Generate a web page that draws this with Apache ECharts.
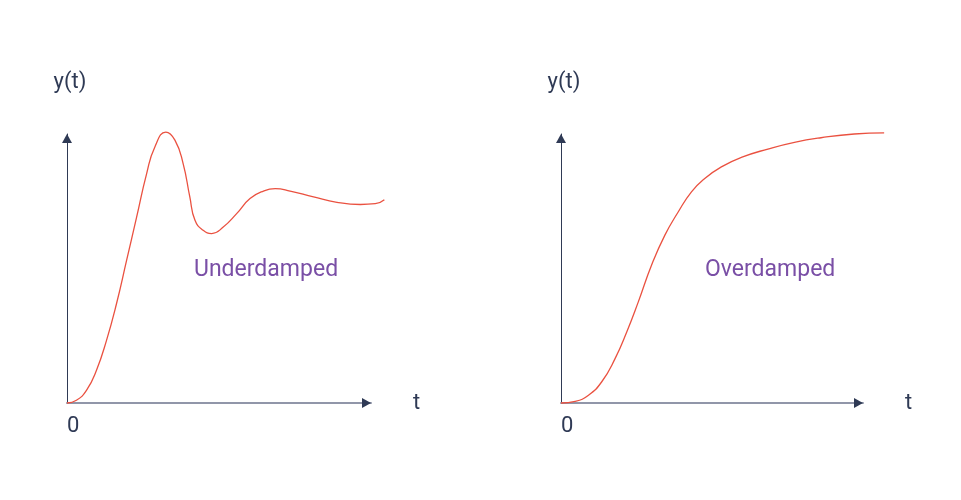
<!DOCTYPE html>
<html>
<head>
<meta charset="utf-8">
<script src="https://cdn.jsdelivr.net/npm/echarts@6/dist/echarts.min.js"></script>
<style>html,body{margin:0;padding:0;background:#fff}#c{width:961px;height:500px}</style>
</head>
<body>
<div id="c"></div>
<script>
// Underdamped response (t, y) in axis units (axis arrows end at t = 100, y = 100)
const underT = [0, 3.1, 6.4, 9.7, 13.0, 16.3, 19.6, 22.9, 26.2, 28.9, 32.5, 35.5, 38.2, 40.4, 42.1, 44.8, 47.6, 51.4, 55.8, 60.2, 64.6, 68.5, 73.4, 81.1, 88.8, 96.5, 101.4, 104.4];
const underY = [0, 1.0, 4.7, 12.2, 23.3, 37.0, 53.0, 69.1, 85.3, 95.2, 100.7, 97.7, 89.0, 76.6, 67.9, 64.2, 63.0, 65.4, 70.4, 76.0, 78.8, 79.7, 78.8, 76.6, 74.6, 73.8, 74.1, 75.6];
// Overdamped response
const overT = [0, 4.7, 9.1, 13.5, 17.9, 21.8, 25.6, 30.0, 34.4, 38.8, 43.2, 47.6, 53.1, 59.7, 68.5, 77.3, 86.1, 97.1, 107.0];
const overY = [0, 0.6, 2.9, 7.9, 16.5, 26.5, 37.6, 51.3, 62.4, 71.0, 78.5, 83.5, 87.8, 91.3, 94.4, 96.9, 98.6, 100.0, 100.4];
const panelTitles = ['Underdamped', 'Overdamped'];
const yName = 'y(t)';
const xName = 't';
const originLabel = '0';

const FONT = 'Roboto';
const DARK = '#2f3a55';
const GRAY = '#9196a9';
const RED = '#ea5140';
const PURPLE = '#7a4fa6';

const chart = echarts.init(document.getElementById('c'));
const AX_MAX = 100, SER_MAX = 110;
const decoGrids = [
  {left: 67, top: 134, width: 304, height: 269},
  {left: 561, top: 134, width: 302, height: 269}
];
// series grids: same scale, extended so the curves may run past the arrows
const serGrids = decoGrids.map(g => {
  const w = g.width * SER_MAX / AX_MAX, h = g.height * SER_MAX / AX_MAX;
  return {left: g.left, top: g.top + g.height - h, width: w, height: h};
});
const grids = decoGrids.concat(serGrids);

const ARROW = {symbol: ['none', 'triangle'], symbolSize: [10, 9], symbolOffset: [0, -4.5]};
const xAxes = [], yAxes = [];
decoGrids.forEach((g, i) => {
  xAxes.push({
    type: 'value', gridIndex: i, min: 0, max: AX_MAX, interval: AX_MAX, position: 'bottom',
    name: xName, nameLocation: 'end', nameGap: 42,
    nameTextStyle: {fontFamily: FONT, fontSize: 22, color: DARK, verticalAlign: 'middle', padding: [0, 0, 4, 0]},
    axisLine: {show: true, onZero: false, lineStyle: {color: GRAY, width: 2}},
    axisTick: {show: false}, splitLine: {show: false},
    axisLabel: {show: true, margin: 12, fontFamily: FONT, fontSize: 22, color: DARK, align: 'left',
      formatter: v => v === 0 ? originLabel : ''}
  });
  yAxes.push({
    type: 'value', gridIndex: i, min: 0, max: AX_MAX,
    name: yName, nameLocation: 'end', nameGap: 52,
    nameTextStyle: {fontFamily: FONT, fontSize: 22, color: DARK, align: 'center', verticalAlign: 'middle', padding: [0, 0, 0, 6]},
    axisLine: Object.assign({show: true, onZero: false, lineStyle: {color: DARK, width: 1}}, ARROW),
    axisTick: {show: false}, splitLine: {show: false}, axisLabel: {show: false}
  });
});
// dark arrow heads on the x axes (line itself hidden)
decoGrids.forEach((g, i) => {
  xAxes.push({
    type: 'value', gridIndex: i, min: 0, max: AX_MAX, position: 'bottom', z: 5,
    axisLine: Object.assign({show: true, onZero: false, lineStyle: {color: DARK, width: 0}}, ARROW),
    axisTick: {show: false}, splitLine: {show: false}, axisLabel: {show: false}
  });
});
// hidden axes for the series grids
serGrids.forEach((g, i) => {
  xAxes.push({type: 'value', gridIndex: 2 + i, min: 0, max: SER_MAX, show: false});
  yAxes.push({type: 'value', gridIndex: 2 + i, min: 0, max: SER_MAX, show: false});
});

const lineSeries = (ts, ys, i) => ({
  type: 'line', xAxisIndex: 4 + i, yAxisIndex: 2 + i, smooth: 0.5, clip: false,
  showSymbol: false, symbol: 'none', z: 3,
  lineStyle: {color: RED, width: 1.3},
  data: ts.map((t, k) => [t, ys[k]])
});

chart.setOption({
  animation: false,
  backgroundColor: '#ffffff',
  grid: grids,
  xAxis: xAxes,
  yAxis: yAxes,
  series: [lineSeries(underT, underY, 0), lineSeries(overT, overY, 1)],
  graphic: [
    {type: 'text', left: 194, top: 259, style: {text: panelTitles[0], font: '23px ' + FONT, fill: PURPLE}},
    {type: 'text', left: 705, top: 259, style: {text: panelTitles[1], font: '23px ' + FONT, fill: PURPLE}}
  ]
});
</script>
</body>
</html>
